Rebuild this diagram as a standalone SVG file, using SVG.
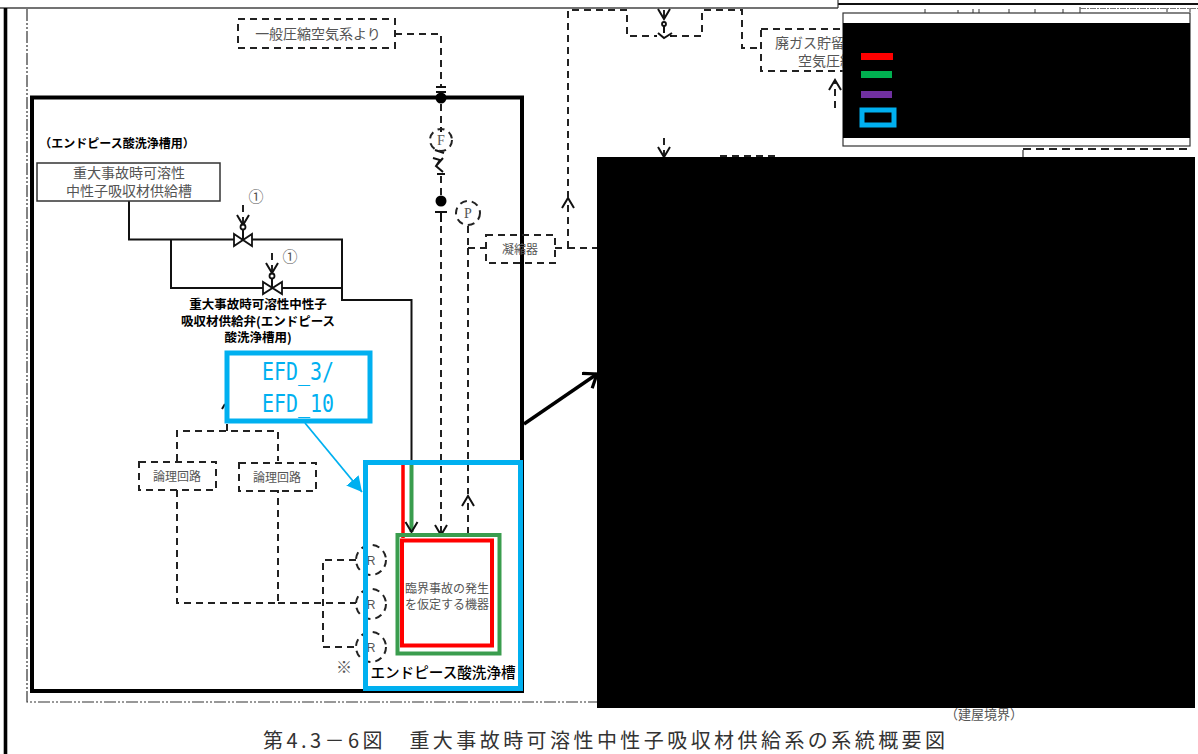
<svg xmlns="http://www.w3.org/2000/svg" width="1198" height="754" viewBox="0 0 1198 754">
<defs>
<marker id="ah" markerUnits="userSpaceOnUse" markerWidth="14" markerHeight="16" refX="11" refY="7" orient="auto"><path d="M1 1L11 7L1 13" fill="none" stroke="#111" stroke-width="2"/></marker>
<marker id="ahb" markerUnits="userSpaceOnUse" markerWidth="24" markerHeight="24" refX="19" refY="10" orient="auto"><path d="M7 1L19 10L7 19" fill="none" stroke="#000" stroke-width="3.200"/></marker>
<marker id="ahc" markerUnits="userSpaceOnUse" markerWidth="20" markerHeight="20" refX="15" refY="8" orient="auto"><path d="M0 0L15 8L0 16Z" fill="#00b0f0"/></marker>
</defs>
<style>
text{font-family:"Noto Sans CJK JP","Liberation Serif",serif;fill:#555}
.b{font-family:"Noto Sans CJK JP","Liberation Sans",sans-serif;fill:#000;font-weight:700;font-size:12.500px;text-anchor:middle}
.s{fill:none;stroke:#111;stroke-width:2}
.d{fill:none;stroke:#222;stroke-width:2;stroke-dasharray:7 5}
.dn{fill:none;stroke:#222;stroke-width:2;stroke-dasharray:7 5}
.o{fill:none;stroke:#111;stroke-width:2}
.v{fill:#fff;stroke:#111;stroke-width:1.800}
.t{font-size:12px;text-anchor:middle}
</style>
<rect width="1198" height="754" fill="#fff"/>
<g id="page-frame">
<path d="M0 8H838" fill="none" stroke="#444" stroke-width="1.400"/>
<path d="M5.500 8V754" fill="none" stroke="#000" stroke-width="3.600"/>
<path d="M838 4H1198" fill="none" stroke="#111" stroke-width="2"/>
<path d="M838 0V8" fill="none" stroke="#333" stroke-width="1.200"/>
<path d="M925 9V13M958 10V13M973 9V13M979 9V13M1009 9V13M1035 9V13M1063 9V13M1080 7V13M1167 8V12M1190 8V12" fill="none" stroke="#333" stroke-width="1"/>
<path d="M1080 8.500H1198" fill="none" stroke="#777" stroke-width="1" stroke-dasharray="6 1 2 1"/>
</g>
<g id="building-boundary">
<path d="M27 9V702H597" fill="none" stroke="#333" stroke-width="1.200" stroke-dasharray="12 2 2 2 2 2"/>
<text x="984" y="719" font-size="13" text-anchor="middle" textLength="78">（建屋境界）</text>
</g>
<g id="room-frame"><rect x="32" y="97.500" width="490" height="593.500" fill="none" stroke="#000" stroke-width="4"/></g>
<g id="connectors">
<path class="s" d="M129 201V239.500H342V300H411.500V465"/>
<path class="s" d="M171 240V288H342"/>
<path class="d" d="M395 34H441V88"/>
<path class="o" d="M436 87H446M436 92H446"/>
<path class="d" d="M441 104V128"/>
<path class="o" d="M441 127V132"/>
<path class="o" d="M435 150L444 153M433 158L440 160L436 166L443 172M443 158L436 166M437 174H445"/>
<path class="d" d="M441 176V196"/>
<path class="o" d="M435 212H447M441 212V222"/>
<path class="d" d="M441 226V535" marker-end="url(#ah)"/>
<path class="d" d="M468 226V248M468 248H486M468 248V494"/>
<path class="d" d="M468 534V496" marker-end="url(#ah)"/>
<path class="d" d="M555 248H568M568 248H597"/>
<path class="d" d="M568 248V198" marker-end="url(#ah)"/>
<path class="d" d="M568 198V10H627V36H655M670 36H702V10H742V48H761"/>
<path class="d" d="M664 138V157" marker-end="url(#ah)"/>
<path class="d" d="M720 156H778"/>
<path class="d" d="M835 108V80" marker-end="url(#ah)"/>
<path class="d" d="M664 10V19" marker-end="url(#ah)"/>
<path class="d" d="M243 205V225" marker-end="url(#ah)"/>
<path class="d" d="M272 253V273" marker-end="url(#ah)"/>
<path class="d" d="M177 461V431H278V461"/>
<path class="d" d="M227 431V423"/>
<path class="o" d="M222 409L225 404"/>
<path class="d" d="M177 490V603H278V490"/>
<path class="d" d="M278 603H356"/>
<path class="d" d="M356 560H323V647H356"/>
<path d="M305 423L362 492" fill="none" stroke="#00b0f0" stroke-width="1.800" marker-end="url(#ahc)"/>
<path d="M524 424L597 374" fill="none" stroke="#000" stroke-width="3.400" marker-end="url(#ahb)"/>
<path d="M1023 150V157" fill="none" stroke="#333" stroke-width="1.200"/>
<path d="M1023 149H1190" fill="none" stroke="#222" stroke-width="1.800" stroke-dasharray="8 5"/>
</g>
<g id="tank-supply"><rect x="37" y="163" width="183" height="38" fill="#fff" stroke="#333" stroke-width="1.500"/>
<text style="font-size:14px;text-anchor:middle"><tspan x="129" y="178">重大事故時可溶性</tspan><tspan x="129" y="196">中性子吸収材供給槽</tspan></text></g>
<g id="valve-1"><path class="v" d="M234 234V246L252 234V246Z"/><circle class="v" cx="243" cy="227" r="2.500"/><path class="o" d="M243 230V240"/><text class="t" x="256" y="202" style="font-size:15px">①</text></g>
<g id="valve-2"><path class="v" d="M263 282V294L282 282V294Z"/><circle class="v" cx="272" cy="276" r="2.500"/><path class="o" d="M272 279V288"/><text class="t" x="290" y="262" style="font-size:15px">①</text></g>
<g id="labels">
<text class="b" x="117" y="148" style="font-size:12px">（エンドピース酸洗浄槽用）</text>
<text class="b"><tspan x="258" y="309">重大事故時可溶性中性子</tspan><tspan x="258" y="325.700">吸収材供給弁(エンドピース</tspan><tspan x="258" y="342.400">酸洗浄槽用)</tspan></text>
<text x="344" y="673" style="font-size:16px;text-anchor:middle">※</text>
</g>
<g id="air-supply"><rect class="dn" x="238" y="19" width="157" height="29"/><text class="t" x="318" y="39" style="font-size:14px">一般圧縮空気系より</text></g>
<g id="instr-f"><circle class="dn" cx="441" cy="140" r="11" stroke-dasharray="8 5"/><text class="t" x="441" y="145" style="font-size:14px;font-family:'Liberation Serif',serif">F</text></g>
<g id="junction-a"><circle cx="441" cy="98" r="5.500" fill="#000"/></g>
<g id="junction-b"><circle cx="441" cy="201" r="5.500" fill="#000"/></g>
<g id="instr-p"><circle class="dn" cx="468" cy="213" r="12" stroke-dasharray="8 5"/><text class="t" x="468" y="218" style="font-size:14px;font-family:'Liberation Serif',serif">P</text></g>
<g id="condenser"><rect class="dn" x="486" y="235" width="69" height="28"/><text class="t" x="520" y="254" style="font-size:12px">凝縮器</text></g>
<g id="logic-1"><rect class="dn" x="139" y="462" width="77" height="28"/><text class="t" x="177" y="481" style="font-size:12px">論理回路</text></g>
<g id="logic-2"><rect class="dn" x="239" y="463" width="77" height="28"/><text class="t" x="277" y="482" style="font-size:12px">論理回路</text></g>
<g id="instr-r1"><circle class="dn" cx="371" cy="560" r="15" stroke-dasharray="9 6"/><text class="t" x="371" y="565" style="font-size:12px;font-family:'Liberation Sans',sans-serif">R</text></g>
<g id="instr-r2"><circle class="dn" cx="371" cy="604" r="15" stroke-dasharray="9 6"/><text class="t" x="371" y="609" style="font-size:12px;font-family:'Liberation Sans',sans-serif">R</text></g>
<g id="instr-r3"><circle class="dn" cx="371" cy="647" r="15" stroke-dasharray="9 6"/><text class="t" x="371" y="652" style="font-size:12px;font-family:'Liberation Sans',sans-serif">R</text></g>
<g id="efd-callout"><rect x="227" y="353" width="143" height="68" fill="#fff" stroke="#00b0f0" stroke-width="5"/>
<text x="298" y="380" text-anchor="middle" style="font-family:'DejaVu Sans Mono','Liberation Mono',monospace;font-size:24px;fill:#00b0f0" textLength="72" lengthAdjust="spacingAndGlyphs">EFD_3/</text>
<text x="298" y="412" text-anchor="middle" style="font-family:'DejaVu Sans Mono','Liberation Mono',monospace;font-size:24px;fill:#00b0f0" textLength="72" lengthAdjust="spacingAndGlyphs">EFD_10</text></g>
<g id="efd-box"><rect x="365.500" y="462.500" width="155" height="226" fill="none" stroke="#00b0f0" stroke-width="5"/>
<path d="M403 465V538" fill="none" stroke="#f00" stroke-width="3.500"/>
<path d="M411.500 465V532" fill="none" stroke="#3a9d4e" stroke-width="4" marker-end="url(#ah)"/>
<text x="443" y="678" text-anchor="middle" style="font-family:'Noto Sans CJK JP',sans-serif;font-size:14.600px;font-weight:500;fill:#000">エンドピース酸洗浄槽</text></g>
<g id="critical-vessel"><rect x="397.500" y="535" width="102" height="118.500" fill="none" stroke="#3a9d4e" stroke-width="4"/>
<rect x="402" y="540.500" width="90" height="105" fill="none" stroke="#f00" stroke-width="4"/>
<text style="font-size:12px;text-anchor:middle"><tspan x="447" y="593">臨界事故の発生</tspan><tspan x="447" y="609">を仮定する機器</tspan></text></g>
<g id="waste-gas"><rect class="dn" x="761" y="29" width="100" height="42"/><text style="font-size:14px;text-anchor:middle"><tspan x="810" y="48">廃ガス貯留</tspan><tspan x="826" y="66">空気圧縮</tspan></text></g>
<g id="valve-top"><circle class="v" cx="664" cy="24" r="2"/><path class="o" d="M664 26V33M658 33L664 38L672 33M655 36H657M670 36H672"/></g>
<g id="redaction-main"><rect x="597" y="157" width="598" height="551" fill="#000"/></g>
<g id="legend"><rect x="843" y="13" width="347" height="133" fill="#fff" stroke="#333" stroke-width="1.200"/>
<rect x="843" y="23" width="347" height="115" fill="#000"/>
<rect x="861" y="53" width="32" height="7" fill="#f00"/>
<rect x="861" y="71" width="31" height="7" fill="#00b050"/>
<rect x="861" y="91" width="31" height="7" fill="#7030a0"/>
<rect x="862" y="110" width="32" height="15" fill="#000" stroke="#00b0f0" stroke-width="5"/></g>
<g id="caption"><text x="263" y="748" style="font-size:20px;fill:#333" textLength="682" lengthAdjust="spacing">第4.3－6図　重大事故時可溶性中性子吸収材供給系の系統概要図</text></g>
</svg>
